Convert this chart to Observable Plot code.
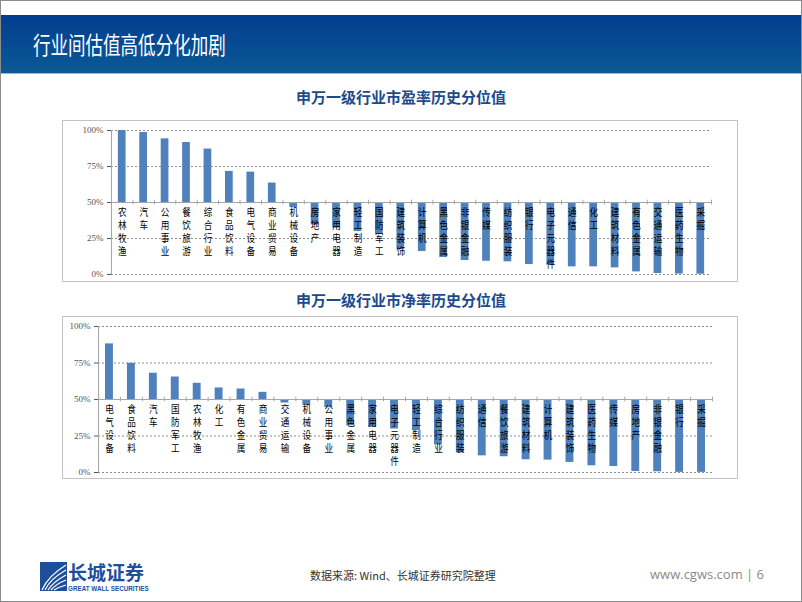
<!DOCTYPE html>
<html><head><meta charset="utf-8">
<script src="https://cdn.jsdelivr.net/npm/d3@7"></script>
<script src="https://cdn.jsdelivr.net/npm/@observablehq/plot@0.6"></script>
<style>
body{margin:0;background:#fff;}
#page{position:relative;width:800px;height:600px;border:1px solid #8c8c8c;background:#fff;overflow:hidden;font-family:"Noto Sans CJK SC",sans-serif;}
#header{position:absolute;left:0;top:14px;width:800px;height:58px;background:linear-gradient(#013d8f,#0b5995);border-bottom:1px solid #9bb7d8;}
#header span{position:absolute;left:32px;top:14px;font-size:24px;line-height:30px;color:#fff;display:inline-block;transform:scaleX(0.73);transform-origin:left center;white-space:nowrap;}
.ctitle{position:absolute;left:0;width:800px;text-align:center;font-size:15px;line-height:20px;font-weight:bold;color:#1c4a8c;}
.box{position:absolute;left:61px;border:1px solid #c3c3c3;line-height:0;}
#src{position:absolute;left:309px;top:566px;font-size:11px;line-height:16px;color:#333;white-space:nowrap;}
#web{position:absolute;left:649px;top:565px;font-family:"Open Sans",sans-serif;font-size:13px;line-height:16px;color:#8a8a8a;white-space:nowrap;}
#logo{position:absolute;left:39px;top:561px;}
#logotxt{position:absolute;left:67px;top:561px;font-size:19px;line-height:20px;font-weight:bold;color:#1d4f9c;white-space:nowrap;}
#logoen{position:absolute;left:67px;top:584px;font-family:"Liberation Sans",sans-serif;font-size:6.3px;line-height:7px;font-weight:bold;color:#1d4f9c;white-space:nowrap;}
</style></head>
<body>
<div id="page">
  <div id="header"><span>行业间估值高低分化加剧</span></div>
  <div class="ctitle" style="top:86px">申万一级行业市盈率历史分位值</div>
  <div class="box" id="box1" style="top:119px"></div>
  <div class="ctitle" style="top:289px">申万一级行业市净率历史分位值</div>
  <div class="box" id="box2" style="top:315px"></div>
  <svg id="logo" width="27" height="29" viewBox="0 0 27 29">
    <rect x="0" y="0" width="27" height="29" fill="#1d4f9c"/>
    <path d="M2 28 Q8 14 26 3 M5 28 Q10 17 26 8 M8 28 Q13 20 26 13 M11 28 Q16 22 26 18 M14 28 Q19 25 26 23" stroke="#fff" stroke-width="1.2" fill="none"/>
  </svg>
  <div id="logotxt">长城证券</div>
  <div id="logoen">GREAT WALL SECURITIES</div>
  <div id="src">数据来源: Wind、长城证券研究院整理</div>
  <div id="web">www.cgws.com | 6</div>
</div>
<script>
// 申万一级行业市盈率历史分位值 (%)
const peNames = ["农林牧渔","汽车","公用事业","餐饮旅游","综合行业","食品饮料","电气设备","商业贸易","机械设备","房地产","家用电器","轻工制造","国防军工","建筑装饰","计算机","黑色金属","非银金融","传媒","纺织服装","银行","电子元器件","通信","化工","建筑材料","有色金属","交通运输","医药生物","采掘"];
const peValues = [100, 98.6, 94.2, 91.7, 87.1, 71.6, 71.1, 63.5, 46.5, 34.5, 32.2, 29.8, 28.0, 17.4, 16.0, 11.8, 9.7, 9.2, 8.8, 6.9, 6.5, 5.3, 5.3, 4.6, 1.8, 0.7, 0.3, 0.2];
// 申万一级行业市净率历史分位值 (%)
const pbNames = ["电气设备","食品饮料","汽车","国防军工","农林牧渔","化工","有色金属","商业贸易","交通运输","机械设备","公用事业","黑色金属","家用电器","电子元器件","轻工制造","综合行业","纺织服装","通信","餐饮旅游","建筑材料","计算机","建筑装饰","医药生物","传媒","房地产","非银金融","银行","采掘"];
const pbValues = [88.1, 74.8, 68.0, 65.4, 61.1, 57.9, 57.2, 54.9, 47.6, 45.8, 44.4, 32.0, 30.9, 29.8, 28.6, 18.8, 13.5, 11.4, 10.8, 8.7, 8.5, 6.9, 4.6, 4.1, 0.7, 0.5, 0.1, 0.1];
const yTicks = [0, 25, 50, 75, 100];
const baseline = 50;
const barColor = "#4f81bd";

function chart(names, values, dims) {
  const {width, height, marginLeft, marginRight, marginTop, marginBottom} = dims;
  const data = names.map((name, i) => ({name, value: values[i]}));
  const step = (width - marginLeft - marginRight) / names.length;
  return Plot.plot({
    width, height, marginLeft, marginRight, marginTop, marginBottom,
    style: {background: "transparent", fontFamily: "'Liberation Serif', serif", fontSize: "9px", color: "#555", overflow: "visible"},
    x: {domain: names, paddingInner: 0.64, paddingOuter: 0.32, round: false, axis: null},
    y: {domain: [0, 100], ticks: yTicks, tickFormat: d => d + "%", tickSize: 4, tickPadding: 4, label: null},
    marks: [
      Plot.ruleY(yTicks.filter(t => t !== baseline), {stroke: "#8c8c8c", strokeDasharray: "2,2", strokeWidth: 1}),
      Plot.barY(data, {x: "name", y1: () => baseline, y2: "value", fill: barColor}),
      Plot.ruleY([baseline], {stroke: "#a6a6a6", strokeWidth: 1}),
      Plot.ruleX(names, {x: d => d, y1: () => baseline - 1.6, y2: () => baseline + 1.6, dx: -step / 2, stroke: "#a6a6a6"}),
      Plot.ruleX([names[names.length - 1]], {x: d => d, y1: () => baseline - 1.6, y2: () => baseline + 1.6, dx: step / 2, stroke: "#a6a6a6"}),
      Plot.ruleX([names[0]], {x: d => d, y1: () => 0, y2: () => 100, dx: -step / 2, stroke: "#a6a6a6"}),
      Plot.text(data, {x: "name", y: () => baseline, text: d => [...d.name].join("\n"), lineAnchor: "top", dy: 4, lineHeight: 1.24, fontSize: 10.5, fill: "#000", fontFamily: "'Noto Sans CJK SC', sans-serif"})
    ]
  });
}

function squeeze(svg, sx) {
  svg.querySelectorAll('g[aria-label="text"] text').forEach(t => {
    const bb = t.getBBox();
    const cx = bb.x + bb.width / 2;
    const tr = t.getAttribute("transform") || "";
    t.setAttribute("transform", `${tr} translate(${cx},0) scale(${sx},1) translate(${-cx},0)`);
  });
}

const c1 = chart(peNames, peValues, {width: 674, height: 160, marginLeft: 48, marginRight: 26, marginTop: 9, marginBottom: 7});
document.getElementById("box1").appendChild(c1);
squeeze(c1, 0.82);
const c2 = chart(pbNames, pbValues, {width: 674, height: 161, marginLeft: 35, marginRight: 25, marginTop: 9, marginBottom: 6});
document.getElementById("box2").appendChild(c2);
squeeze(c2, 0.82);
</script>
</body></html>
